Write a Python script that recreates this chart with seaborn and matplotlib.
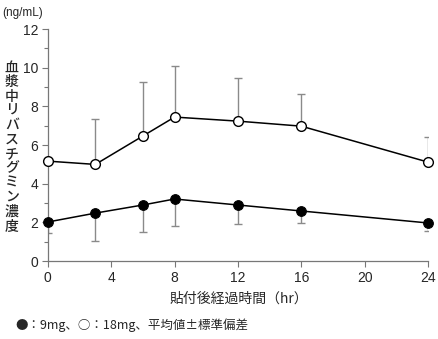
import numpy as np
import pandas as pd
import matplotlib
matplotlib.use("Agg")
import matplotlib.pyplot as plt
import seaborn as sns

time_hr = [0, 3, 6, 8, 12, 16, 24]
mean_9mg = [2.02, 2.48, 2.90, 3.21, 2.90, 2.59, 1.97]
sd_9mg = [0.57, 1.45, 1.40, 1.40, 0.99, 0.62, 0.42]
mean_18mg = [5.17, 5.00, 6.47, 7.45, 7.24, 6.98, 5.12]
sd_18mg = [0.00, 2.35, 2.79, 2.64, 2.23, 1.66, 1.29]

x_ticks = [0, 4, 8, 12, 16, 20, 24]
y_ticks = [0, 2, 4, 6, 8, 10, 12]

sns.set_style("white")
plt.rcParams['font.family'] = ['Liberation Sans', 'Noto Sans CJK JP', 'DejaVu Sans']

fig = plt.figure(figsize=(4.39, 3.39), dpi=100)
ax = fig.add_axes([0.109, 0.23, 0.866, 0.684])

df = pd.DataFrame({
    "time": time_hr * 2,
    "conc": mean_9mg + mean_18mg,
    "dose": ["9mg"] * len(time_hr) + ["18mg"] * len(time_hr),
})

# error bars (one-sided)
ax.errorbar(time_hr, mean_9mg, yerr=[sd_9mg, [0] * len(sd_9mg)], fmt='none',
            ecolor='#8a8a8a', elinewidth=1.0, capsize=3, capthick=1.0, zorder=1)
ax.errorbar(time_hr, mean_18mg, yerr=[[0] * len(sd_18mg), sd_18mg], fmt='none',
            ecolor='#8a8a8a', elinewidth=1.0, capsize=3, capthick=1.0, zorder=1)

sns.lineplot(data=df[df.dose == "9mg"], x="time", y="conc", ax=ax, color='black',
             marker='o', markersize=7, markerfacecolor='black', markeredgecolor='black',
             linewidth=1.1, zorder=3, legend=False, clip_on=False)
sns.lineplot(data=df[df.dose == "18mg"], x="time", y="conc", ax=ax, color='black',
             marker='o', markersize=7, markerfacecolor='white', markeredgecolor='black',
             markeredgewidth=1.0, linewidth=1.1, zorder=3, legend=False, clip_on=False)

ax.set_xlim(0, 24)
ax.set_ylim(0, 12)
ax.set_xticks(x_ticks)
ax.set_yticks(y_ticks)
ax.set_yticks(np.arange(0, 13, 1), minor=True)
ax.tick_params(axis='both', which='both', direction='out', length=4, width=0.8,
               color='#777777', labelsize=10, pad=3)
ax.tick_params(axis='y', which='minor', length=3)
ax.tick_params(axis='both', which='major', left=True, bottom=True)
ax.tick_params(axis='y', which='minor', left=True)
for s in ['top', 'right']:
    ax.spines[s].set_visible(False)
for s in ['left', 'bottom']:
    ax.spines[s].set_color('#777777')
    ax.spines[s].set_linewidth(0.9)
ax.set_xlabel("")
ax.set_ylabel("")

fig.text(0.005, 0.962, "(ng/mL)", fontsize=8.5, ha='left', va='center')
fig.text(0.027, 0.567, "\n".join("血漿中リバスチグミン濃度"), fontsize=10,
         ha='center', va='center', linespacing=1.03, fontweight='medium',
         family=['Noto Sans CJK JP', 'DejaVu Sans'])
fig.text(0.545, 0.118, "貼付後経過時間（hr）", fontsize=10, ha='center', va='center',
         family=['Noto Sans CJK JP', 'DejaVu Sans'])
fig.text(0.035, 0.040, "●：9mg、○：18mg、平均値±標準偏差", fontsize=9,
         ha='left', va='center', family=['Noto Sans CJK JP', 'DejaVu Sans'])

fig.savefig("out.png", dpi=100)
